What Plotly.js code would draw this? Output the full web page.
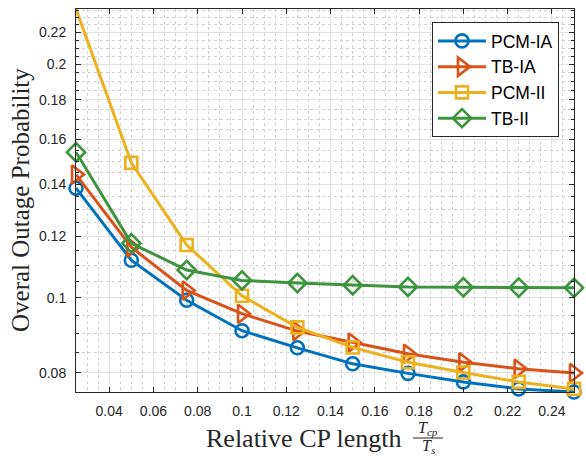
<!DOCTYPE html>
<html>
<head>
<meta charset="utf-8">
<script src="https://cdn.plot.ly/plotly-3.0.1.min.js"></script>
<style>html,body{margin:0;padding:0;background:#fff;}#chart{width:586px;height:458px;}</style>
</head>
<body>
<div id="chart"></div>
<script>
// ---- data ----
const cpLength = [0.025, 0.05, 0.075, 0.1, 0.125, 0.15, 0.175, 0.2, 0.225, 0.25];
const pcmIA = [0.1385, 0.1118, 0.0993, 0.0907, 0.0862, 0.0822, 0.0799, 0.0779, 0.0763, 0.0756];
const tbIA  = [0.1442, 0.1162, 0.1022, 0.0954, 0.0906, 0.0876, 0.0847, 0.0826, 0.0810, 0.0800];
const pcmII = [0.2358, 0.1493, 0.1170, 0.1006, 0.0916, 0.0863, 0.0826, 0.0801, 0.0779, 0.0763];
const tbII  = [0.1541, 0.1176, 0.1086, 0.1053, 0.1045, 0.1038, 0.1033, 0.1032, 0.1031, 0.1030];
const seriesNames = ['PCM-IA', 'TB-IA', 'PCM-II', 'TB-II'];
const xTickVals = [0.04, 0.06, 0.08, 0.1, 0.12, 0.14, 0.16, 0.18, 0.2, 0.22, 0.24];
const xTickText = ['0.04', '0.06', '0.08', '0.1', '0.12', '0.14', '0.16', '0.18', '0.2', '0.22', '0.24'];
const yTickVals = [0.08, 0.1, 0.12, 0.14, 0.16, 0.18, 0.2, 0.22];
const yTickText = ['0.08', '0.1', '0.12', '0.14', '0.16', '0.18', '0.2', '0.22'];

// ---- styling ----
const colors = ['#0072BD', '#D95319', '#EDB120', '#3C943C'];
const symbols = ['circle-open', 'triangle-right-open', 'square-open', 'diamond-open'];
const sizes = [13, 16, 12, 14];
const allSeries = [pcmIA, tbIA, pcmII, tbII];

const traces = allSeries.map((ys, i) => ({
  x: cpLength, y: ys, name: seriesNames[i], type: 'scatter', mode: 'lines+markers',
  cliponaxis: false,
  line: {color: colors[i], width: 3},
  marker: {symbol: symbols[i], size: sizes[i], color: colors[i], line: {color: colors[i], width: 2.6}}
}));

const allY = [].concat(...allSeries);
const yMin = Math.min(...allY), yMax = Math.max(...allY);

const minorY = [];
for (let k = 15; k <= 48; k++) {
  const v = +(k * 0.005).toFixed(3);
  if (!yTickVals.some(t => Math.abs(t - v) < 1e-9)) minorY.push(v);
}

const W = 586, H = 458, L = 76, R = 12, T = 9, B = 66;
const pw = W - L - R, ph = H - T - B;
const px = x => (x - L) / pw;
const py = y => (H - B - y) / ph;

const axisColor = '#262626';
const tickFont = {family: 'Liberation Sans, Arial, sans-serif', size: 14, color: axisColor};
const serif = 'Liberation Serif, Times New Roman, serif';

const layout = {
  width: W, height: H,
  margin: {l: L, r: R, t: T, b: B, pad: 0},
  paper_bgcolor: '#fff', plot_bgcolor: '#fff',
  showlegend: true,
  xaxis: {
    type: 'linear', range: [Math.min(...cpLength), Math.max(...cpLength)],
    tickmode: 'array', tickvals: xTickVals, ticktext: xTickText,
    ticks: 'inside', ticklen: 5, tickwidth: 1, tickcolor: axisColor,
    showline: true, linecolor: axisColor, linewidth: 1, mirror: 'ticks',
    showgrid: true, gridcolor: '#e2e2e2', gridwidth: 1,
    zeroline: false, tickfont: tickFont, ticklabelstandoff: 6,
    minor: {dtick: 0.005, tick0: 0, showgrid: true, gridcolor: '#d2d2d2', griddash: 'dot', gridwidth: 1, ticks: ''}
  },
  yaxis: {
    type: 'log', range: [Math.log10(yMin), Math.log10(yMax)],
    tickmode: 'array', tickvals: yTickVals, ticktext: yTickText,
    ticks: 'inside', ticklen: 5, tickwidth: 1, tickcolor: axisColor,
    showline: true, linecolor: axisColor, linewidth: 1, mirror: 'ticks',
    showgrid: true, gridcolor: '#e2e2e2', gridwidth: 1,
    zeroline: false, tickfont: tickFont, ticklabelstandoff: 6,
    minor: {tickmode: 'array', tickvals: minorY, showgrid: true, gridcolor: '#d2d2d2', griddash: 'dot', gridwidth: 1,
            ticks: 'inside', ticklen: 3, tickcolor: axisColor}
  },
  legend: {
    x: px(432), y: py(22), xanchor: 'left', yanchor: 'top',
    bgcolor: '#fff', bordercolor: axisColor, borderwidth: 1,
    font: {family: 'Liberation Sans, Arial, sans-serif', size: 17.5, color: '#000'},
    itemwidth: 48, tracegroupgap: 0
  },
  annotations: [
    {text: 'Overal Outage Probability', xref: 'paper', yref: 'paper', x: px(20), y: py(200),
     xanchor: 'center', yanchor: 'middle', textangle: -90, showarrow: false,
     font: {family: serif, size: 25, color: axisColor}},
    {text: 'Relative CP length', xref: 'paper', yref: 'paper', x: px(303), y: py(438),
     xanchor: 'center', yanchor: 'middle', showarrow: false,
     font: {family: serif, size: 26, color: axisColor}},
    {text: '<i>T</i><sub><i>cp</i></sub>', xref: 'paper', yref: 'paper', x: px(428), y: py(428),
     xanchor: 'center', yanchor: 'middle', showarrow: false,
     font: {family: serif, size: 16, color: axisColor}},
    {text: '<i>T</i><sub><i>s</i></sub>', xref: 'paper', yref: 'paper', x: px(429), y: py(446),
     xanchor: 'center', yanchor: 'middle', showarrow: false,
     font: {family: serif, size: 16, color: axisColor}}
  ],
  shapes: [
    {type: 'line', xref: 'paper', yref: 'paper', x0: px(413), x1: px(443), y0: py(438), y1: py(438),
     line: {color: axisColor, width: 1}}
  ]
};

Plotly.newPlot('chart', traces, layout, {displayModeBar: false, staticPlot: true});
</script>
</body>
</html>
